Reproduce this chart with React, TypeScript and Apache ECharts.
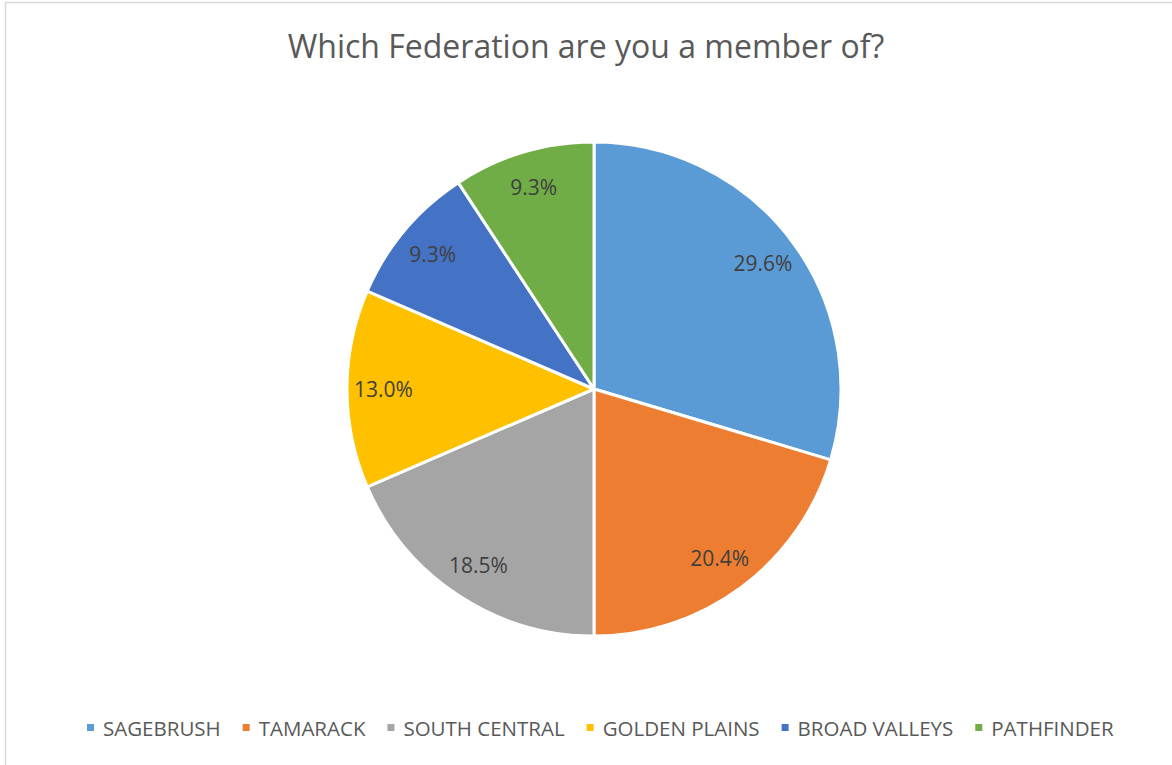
import React, { useEffect, useRef } from "react";
import * as echarts from "echarts";

const categories = ["SAGEBRUSH", "TAMARACK", "SOUTH CENTRAL", "GOLDEN PLAINS", "BROAD VALLEYS", "PATHFINDER"];
const counts = [16, 11, 10, 7, 5, 5];
const colors = ["#5B9BD5", "#ED7D31", "#A5A5A5", "#FFC000", "#4472C4", "#70AD47"];
const titleText = "Which Federation are you a member of?";

const FONT = "'Open Sans', 'Liberation Sans', sans-serif";

export default function App() {
  const ref = useRef<HTMLDivElement>(null);
  useEffect(() => {
    document.body.style.margin = "0";
    const chart = echarts.init(ref.current!, null, { renderer: "svg" });
    const total = counts.reduce((a, b) => a + b, 0);
    const data = categories.map((name, i) => ({
      name,
      value: counts[i],
      itemStyle: { color: colors[i] },
    }));
    chart.setOption({
      animation: false,
      backgroundColor: "#ffffff",
      title: {
        text: titleText,
        left: "center",
        top: 24,
        textStyle: { fontFamily: FONT, fontSize: 32, fontWeight: "normal", color: "#595959" },
      },
      legend: {
        bottom: 22,
        left: 80,
        data: categories,
        icon: "rect",
        itemWidth: 9,
        itemHeight: 9,
        itemGap: 20,
        textStyle: { fontFamily: FONT, fontSize: 20.5, color: "#595959", padding: [0, 0, 0, 3] },
      },
      graphic: [
        { type: "line", shape: { x1: 5.5, y1: 2, x2: 5.5, y2: 765 }, style: { stroke: "#d9d9d9", lineWidth: 1.5 } },
        { type: "line", shape: { x1: 5, y1: 2.5, x2: 1172, y2: 2.5 }, style: { stroke: "#d9d9d9", lineWidth: 1.5 } },
      ],
      series: [
        {
          type: "pie",
          center: [594, 389],
          radius: [0, 247],
          startAngle: 90,
          clockwise: true,
          silent: true,
          label: { show: false },
          labelLine: { show: false },
          itemStyle: { borderColor: "#ffffff", borderWidth: 3 },
          data,
        },
        {
          type: "pie",
          center: [594, 389],
          radius: [168, 247],
          startAngle: 90,
          clockwise: true,
          silent: true,
          labelLine: { show: false },
          itemStyle: { color: "rgba(0,0,0,0)", borderWidth: 0 },
          label: {
            show: true,
            position: "inside",
            fontFamily: FONT,
            fontSize: 21,
            color: "#404040",
            formatter: (p: any) => ((p.value / total) * 100).toFixed(1) + "%",
          },
          data: categories.map((name, i) => ({ name, value: counts[i] })),
        },
      ],
    });
    return () => chart.dispose();
  }, []);
  return <div ref={ref} style={{ width: 1172, height: 765 }} />;
}
